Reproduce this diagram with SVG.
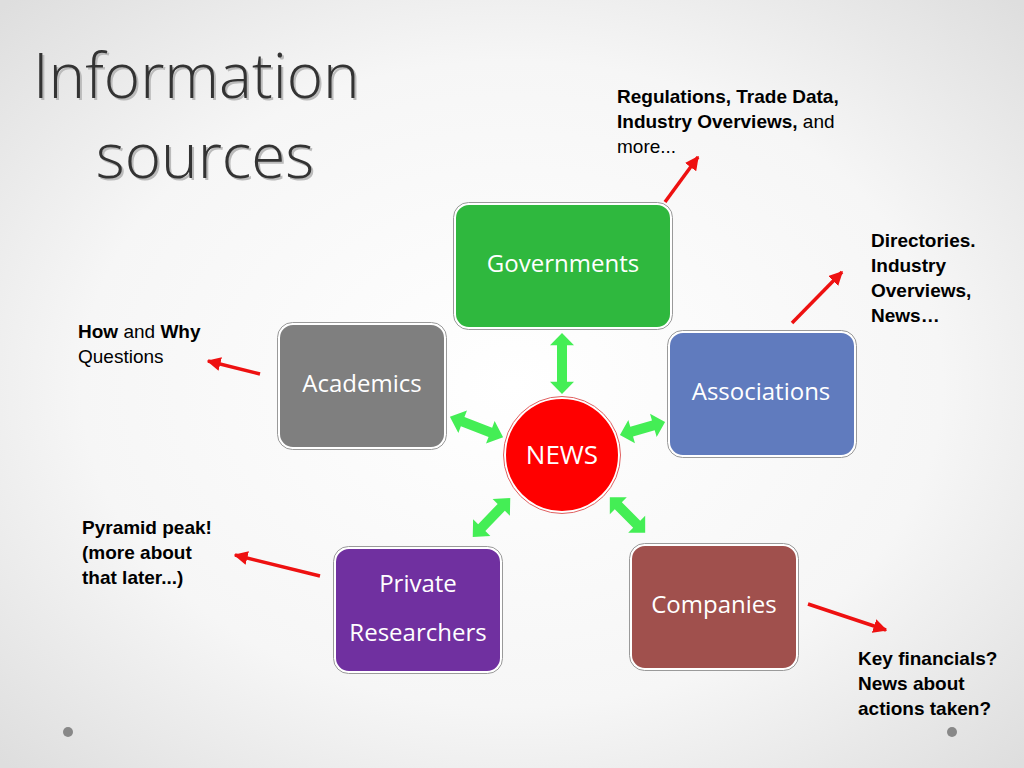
<svg xmlns="http://www.w3.org/2000/svg" width="1024" height="768" viewBox="0 0 1024 768">
<defs>
<radialGradient id="bg" cx="50%" cy="50%" r="70%"><stop offset="0" stop-color="#ffffff"/><stop offset="0.6" stop-color="#f6f6f6"/><stop offset="1" stop-color="#dedede"/></radialGradient>
<marker id="rh" viewBox="0 0 10 10" refX="9" refY="5" markerWidth="4" markerHeight="4" orient="auto"><path d="M0,0L10,5L0,10z" fill="#ee1111"/></marker>
<polygon id="dbl" points="-0.5,0 -0.36,-12 -0.36,-5 0.36,-5 0.36,-12 0.5,0 0.36,12 0.36,5 -0.36,5 -0.36,-12" fill="#44ee55"/>
</defs>
<style>
.box{stroke:#ffffff;stroke-width:2}
.out{fill:none;stroke:#9a9a9a;stroke-width:1}
.lbl{font-family:"Open Sans","DejaVu Sans",sans-serif;font-size:24px;fill:#ffffff;text-anchor:middle}
.note{font-family:"Liberation Sans",Arial,sans-serif;font-size:19px;fill:#000}
.red{stroke:#ee1111;stroke-width:3.5;marker-end:url(#rh);fill:none}
.title{font-family:"Open Sans","DejaVu Sans",sans-serif;font-size:62px;fill:#333;font-weight:300}
</style>
<rect width="1024" height="768" fill="url(#bg)"/>
<circle cx="68" cy="732" r="5" fill="#888"/><circle cx="952" cy="732" r="5" fill="#888"/>
<g id="title">
<text class="title" x="35" y="100" fill="#bbb" style="fill:#bbb">Information</text>
<text class="title" x="33" y="98">Information</text>
<text class="title" x="207" y="180" text-anchor="middle" style="fill:#bbb">sources</text>
<text class="title" x="205" y="178" text-anchor="middle">sources</text>
</g>
<g id="connectors">
<path d="M 562 333 L 562 394" stroke="none"/>
<g transform="translate(562,363.5) rotate(90) scale(61,1)"><polygon points="-0.5,0 -0.3,-12 -0.3,-5 0.3,-5 0.3,-12 0.5,0 0.3,12 0.3,5 -0.3,5 -0.3,12" fill="#44ee55"/></g>
<g transform="translate(476.5,427) rotate(21) scale(57,1)"><polygon points="-0.5,0 -0.26,-12 -0.26,-5 0.26,-5 0.26,-12 0.5,0 0.26,12 0.26,5 -0.26,5 -0.26,12" fill="#44ee55"/></g>
<g transform="translate(642.5,428.5) rotate(-16) scale(47,1)"><polygon points="-0.5,0 -0.24,-12 -0.24,-5 0.24,-5 0.24,-12 0.5,0 0.24,12 0.24,5 -0.24,5 -0.24,12" fill="#44ee55"/></g>
<g transform="translate(491.5,517.5) rotate(-46) scale(54,1)"><polygon points="-0.5,0 -0.26,-12 -0.26,-5 0.26,-5 0.26,-12 0.5,0 0.26,12 0.26,5 -0.26,5 -0.26,12" fill="#44ee55"/></g>
<g transform="translate(627.5,515) rotate(45) scale(50,1)"><polygon points="-0.5,0 -0.26,-12 -0.26,-5 0.26,-5 0.26,-12 0.5,0 0.26,12 0.26,5 -0.26,5 -0.26,12" fill="#44ee55"/></g>
<line class="red" x1="665" y1="202" x2="698" y2="157"/>
<line class="red" x1="792" y1="323" x2="842" y2="272"/>
<line class="red" x1="260" y1="374" x2="208" y2="361"/>
<line class="red" x1="320" y1="576" x2="235" y2="555"/>
<line class="red" x1="808" y1="604" x2="886" y2="630"/>
</g>
<g id="governments"><rect class="box" x="455" y="204" width="216" height="124" rx="14" fill="#2fb83e"/><rect class="out" x="453.5" y="202.5" width="219" height="127" rx="15"/><text class="lbl" x="563" y="272">Governments</text></g>
<g id="academics"><rect class="box" x="279" y="324" width="166" height="124" rx="14" fill="#7f7f7f"/><rect class="out" x="277.5" y="322.5" width="169" height="127" rx="15"/><text class="lbl" x="362" y="392">Academics</text></g>
<g id="associations"><rect class="box" x="669" y="332" width="186" height="124" rx="14" fill="#607bbe"/><rect class="out" x="667.5" y="330.5" width="189" height="127" rx="15"/><text class="lbl" x="761" y="400">Associations</text></g>
<g id="private"><rect class="box" x="335" y="548" width="166" height="124" rx="14" fill="#7030a0"/><rect class="out" x="333.5" y="546.5" width="169" height="127" rx="15"/><text class="lbl" x="418" y="592">Private</text><text class="lbl" x="418" y="641">Researchers</text></g>
<g id="companies"><rect class="box" x="631" y="545" width="166" height="124" rx="14" fill="#a0504d"/><rect class="out" x="629.5" y="543.5" width="169" height="127" rx="15"/><text class="lbl" x="714" y="613">Companies</text></g>
<g id="news"><circle cx="562" cy="455" r="57" fill="#ff0000" stroke="#fff" stroke-width="2"/><circle cx="562" cy="455" r="58.5" fill="none" stroke="#e06060" stroke-width="1"/><text class="lbl" x="562" y="464" style="font-size:26px">NEWS</text></g>
<g id="notes">
<text class="note" x="617" y="103"><tspan font-weight="bold">Regulations, Trade Data,</tspan><tspan x="617" dy="25" font-weight="bold">Industry Overviews,</tspan> and<tspan x="617" dy="25">more...</tspan></text>
<text class="note" x="871" y="247" font-weight="bold">Directories.<tspan x="871" dy="25">Industry</tspan><tspan x="871" dy="25">Overviews,</tspan><tspan x="871" dy="25">News…</tspan></text>
<text class="note" x="78" y="338"><tspan font-weight="bold">How</tspan> and <tspan font-weight="bold">Why</tspan><tspan x="78" dy="25">Questions</tspan></text>
<text class="note" x="82" y="534" font-weight="bold">Pyramid peak!<tspan x="82" dy="25">(more about</tspan><tspan x="82" dy="25">that later...)</tspan></text>
<text class="note" x="858" y="665" font-weight="bold">Key financials?<tspan x="858" dy="25">News about</tspan><tspan x="858" dy="25">actions taken?</tspan></text>
</g>
</svg>
